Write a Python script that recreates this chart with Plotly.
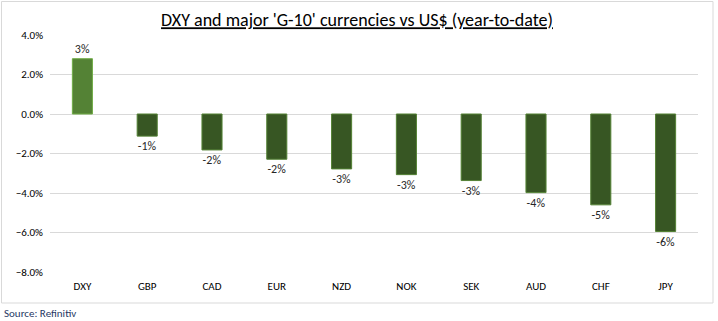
import plotly.graph_objects as go

categories = ["DXY", "GBP", "CAD", "EUR", "NZD", "NOK", "SEK", "AUD", "CHF", "JPY"]
values = [2.80, -1.12, -1.82, -2.29, -2.78, -3.07, -3.37, -3.98, -4.60, -5.95]  # percent
fills = ["#548235"] + ["#375623"] * 9
outlines = ["#70ad47"] + ["#548235"] * 9

W, H = 718, 321
L, R, T, B = 50, 20, 35, 49
pw, ph = W - L - R, H - T - B

def px_x(px):
    return (px - L) / pw

def px_y(py):
    return (H - B - py) / ph

FONT = "Carlito, Calibri, Lato, sans-serif"

fig = go.Figure()
fig.add_trace(go.Bar(
    x=categories,
    y=[v / 100 for v in values],
    marker=dict(color=fills, line=dict(color=outlines, width=1)),
    width=0.31,
    texttemplate="%{y:.0%}",
    textposition="outside",
    cliponaxis=False,
    textfont=dict(family=FONT, size=12, color="#262626"),
    hoverinfo="skip",
))

fig.update_layout(
    width=W, height=H,
    margin=dict(l=L, r=R, t=T, b=B),
    paper_bgcolor="white", plot_bgcolor="white",
    showlegend=False,
    font=dict(family=FONT, size=11, color="#404040"),
    title=dict(
        text="<u>DXY and major 'G-10' currencies vs US$ (year-to-date)</u>",
        font=dict(family=FONT, size=18, color="#000000"),
        x=px_x(357), xref="paper", xanchor="center",
        y=1 - 20 / H, yref="container", yanchor="middle",
    ),
    xaxis=dict(
        showgrid=False, showline=False, zeroline=False, ticks="",
        tickfont=dict(size=11, color="#000000"),
        ticklabelstandoff=6,
    ),
    yaxis=dict(
        range=[-0.08, 0.04], dtick=0.02, tickformat=".1%",
        showgrid=True, gridcolor="#d9d9d9", gridwidth=1,
        zeroline=True, zerolinecolor="#d9d9d9", zerolinewidth=1,
        showline=False, ticks="",
        tickfont=dict(size=11, color="#000000"),
        ticklabelstandoff=6,
    ),
    bargap=0.69,
)

fig.add_shape(
    type="rect", xref="paper", yref="paper",
    x0=px_x(1.5), x1=px_x(713), y0=px_y(303), y1=px_y(1.5),
    line=dict(color="#d9d9d9", width=1), fillcolor="rgba(0,0,0,0)", layer="below",
)

fig.add_annotation(
    text="Source: Refinitiv", xref="paper", yref="paper",
    x=px_x(2), y=px_y(313), xanchor="left", yanchor="middle",
    showarrow=False,
    font=dict(family=FONT, size=11, color="#1f3864"),
)

fig.write_html("out.html")
